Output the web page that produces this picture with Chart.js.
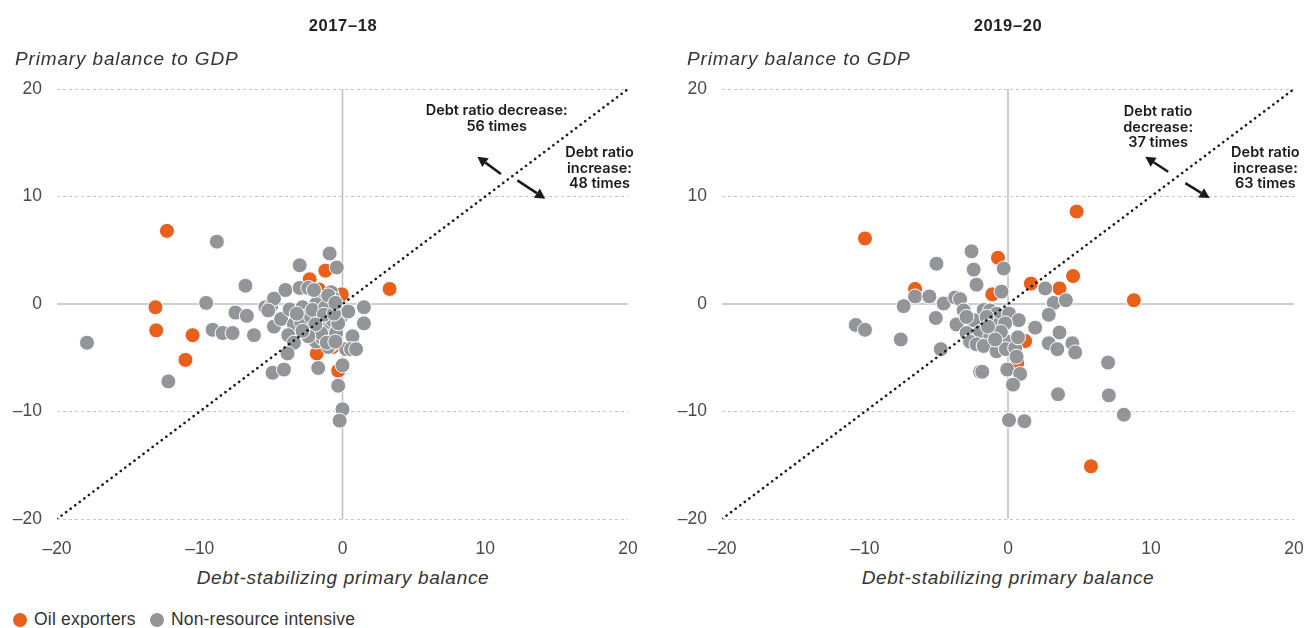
<!DOCTYPE html>
<html>
<head>
<meta charset="utf-8">
<script src="https://cdn.jsdelivr.net/npm/chart.js@4"></script>
<style>
  body { margin: 0; width: 1304px; height: 628px; background: #fff; position: relative; overflow: hidden;
         font-family: "Liberation Sans", Arial, sans-serif; color: #333; }
  canvas { position: absolute; top: 0; }
  .title { position: absolute; top: 16px; font-weight: bold; font-size: 16.5px; letter-spacing: 0.6px; color: #222; transform: translateX(-50%); }
  .ytitle { position: absolute; top: 48px; font-style: italic; font-size: 19px; letter-spacing: 0.85px; color: #333; }
  .xtitle { position: absolute; top: 567px; font-style: italic; font-size: 19px; letter-spacing: 0.7px; color: #333; transform: translateX(-50%); white-space: nowrap; }
  .legend { position: absolute; top: 609px; left: 13px; font-size: 17.5px; letter-spacing: 0.2px; color: #333; }
  .legend span.dot { display: inline-block; width: 14px; height: 14px; border-radius: 50%; vertical-align: -2px; margin-right: 7px; }
  .legend span.item { margin-right: 9px; }
</style>
</head>
<body>
<canvas id="left" width="652" height="560" style="left:0"></canvas>
<canvas id="right" width="652" height="560" style="left:652px"></canvas>
<div class="title" style="left:343px">2017–18</div>
<div class="title" style="left:1008px">2019–20</div>
<div class="ytitle" style="left:15px">Primary balance to GDP</div>
<div class="ytitle" style="left:687px">Primary balance to GDP</div>
<div class="xtitle" style="left:343px">Debt-stabilizing primary balance</div>
<div class="xtitle" style="left:1008px">Debt-stabilizing primary balance</div>
<div class="legend">
  <span class="item"><span class="dot" style="background:#E8601C"></span>Oil exporters</span>
  <span class="item"><span class="dot" style="background:#939598"></span>Non-resource intensive</span>
</div>
<script>
// Colours used for the two country groups.
const oilColor = '#E8601C';
const nonResColor = '#939598';

// Axis ticks (same for both panels).
const tickValues = [-20, -10, 0, 10, 20];

// 2017-18 panel: [debt-stabilizing primary balance, primary balance to GDP].
const oil1718 = [[-12.3,6.8],[-13.1,-0.3],[-13.05,-2.45],[-10.5,-2.9],[-11.0,-5.2],[-2.3,2.3],[-1.2,3.1],
  [-1.65,1.35],[-0.05,0.9],[-1.8,-4.6],[-0.3,-6.2],[-0.7,-4.0],[-2.1,-2.4],[3.3,1.4]];
const nonRes1718 = [[-17.9,-3.6],[-8.8,5.8],[-9.55,0.1],[-12.2,-7.2],[-9.1,-2.4],[-8.4,-2.7],[-7.7,-2.7],
  [-6.8,1.7],[-7.5,-0.8],[-6.7,-1.1],[-6.2,-2.9],[-4.9,-6.4],[-4.1,-6.1],[-5.4,-0.3],[-5.0,-0.2],[-4.8,0.5],
  [-5.2,-0.6],[-4.8,-2.1],[-4.3,-1.4],[-4.0,1.3],[-3.0,3.6],[-3.7,-0.5],[-3.4,-1.9],[-3.8,-2.9],[-3.4,-3.6],
  [-3.85,-4.6],[-3.0,1.5],[-2.4,1.5],[-2.8,-0.3],[-2.7,-1.2],[-2.5,-2.0],[-2.9,-1.7],[-0.9,4.7],[-0.4,3.4],
  [-0.8,1.1],[-0.65,0.5],[-1.65,0.5],[-1.85,0],[-1.7,-0.9],[-1.4,-1.65],[-1.15,-2.1],[-0.9,-2.4],[-0.7,-1.5],
  [-0.45,-0.55],[-0.1,-1.2],[0.4,-0.7],[1.5,-0.3],[1.5,-1.8],[0.7,-3.0],[0.25,-4.2],[0.6,-4.2],[0.95,-4.2],
  [0.0,-5.7],[-0.3,-7.6],[0.0,-9.8],[-0.2,-10.85],[-1.7,-5.95],[-1.85,-3.5],[-1.4,-3.2],[-0.8,-3.0],
  [-0.8,-3.8],[-1.0,-4.0],[-0.45,-2.7],[-2.2,-1.2],[-2.1,-0.55],[-1.2,-0.3],[-1.0,0.8],[-1.5,-2.7],
  [-1.1,-3.6],[-0.5,-3.5],[-0.3,-1.8],[-2.0,1.3],[-1.3,-1.0],[-0.6,-0.9],[-1.9,-1.9],[-3.2,-0.9],
  [-2.4,-3.0],[-2.8,-2.5],[-0.5,0.1]];

// 2019-20 panel.
const oil1920 = [[-10.0,6.1],[-6.5,1.4],[-2.4,-2.4],[4.8,8.6],[-0.7,4.3],[1.6,1.9],[4.55,2.6],[3.6,1.45],
  [8.8,0.35],[-1.1,0.9],[1.2,-3.45],[0.65,-5.5],[5.8,-15.1]];
const nonRes1920 = [[-10.65,-1.95],[-10.0,-2.4],[-7.5,-3.3],[-7.3,-0.2],[-6.5,0.7],[-5.5,0.7],[-5.0,3.75],
  [-4.5,0.05],[-5.05,-1.3],[-4.7,-4.2],[-3.7,0.6],[-3.35,0.45],[-3.6,-1.9],[-3.05,-0.65],[-2.55,4.9],
  [-2.4,3.2],[-2.2,1.8],[-2.9,-2.7],[-2.7,-3.5],[-2.25,-3.75],[-1.95,-6.3],[-0.3,3.3],[-0.45,1.15],
  [-3.1,-0.6],[-1.7,-0.55],[-1.25,-0.6],[-0.8,-0.9],[0.07,-0.9],[0.75,-1.5],[-2.4,-1.5],[-1.0,-1.95],
  [-0.2,-1.8],[-1.95,-2.6],[-1.25,-3.0],[-2.65,-3.5],[-2.2,-3.75],[-1.7,-3.9],[-0.8,-4.4],[-0.1,-3.5],
  [-0.15,-4.2],[0.5,-4.1],[0.7,-3.1],[0.6,-4.9],[-0.05,-6.1],[0.85,-6.5],[0.35,-7.5],[-1.8,-6.3],
  [1.9,-2.2],[2.6,1.45],[3.2,0.1],[4.05,0.35],[2.85,-1.0],[3.6,-2.65],[2.85,-3.65],[3.45,-4.2],
  [4.5,-3.65],[4.7,-4.5],[7.0,-5.45],[7.05,-8.5],[3.5,-8.4],[8.1,-10.3],[0.07,-10.8],[1.15,-10.9],
  [-1.5,-1.2],[-0.5,-2.6],[-1.4,-2.1],[-2.9,-1.2],[-0.9,-3.3]];

// The 45 degree line where the debt ratio stays stable.
const stableLine = [[-20,-20],[20,20]];

// Annotation labels (in data units) for each panel.
const labels1718 = [
  { x: 10.8, y: 17.95, lines: ['Debt ratio decrease:', '56 times'] },
  { x: 18.0, y: 14.05, lines: ['Debt ratio', 'increase:', '48 times'] }
];
const labels1920 = [
  { x: 10.5, y: 17.85, lines: ['Debt ratio', 'decrease:', '37 times'] },
  { x: 18.0, y: 14.05, lines: ['Debt ratio', 'increase:', '63 times'] }
];
// Arrows: [fromX, fromY, toX, toY].
const arrows1718 = [[11.1,12.1,9.45,13.7],[12.25,11.5,14.2,9.8]];
const arrows1920 = [[11.2,12.3,9.6,13.7],[12.4,11.25,14.1,9.85]];

function toPoints( pairs ) {
    return pairs.map( p => ({ x: p[0], y: p[1] }) );
}

function dashLabel( v ) {
    return v < 0 ? '\u2013' + Math.abs( v ) : String( v );
}

/**
 * Draws the solid zero lines, the annotation text and the arrows.
 */
const extrasPlugin = {
    id: 'extras',
    beforeDatasetsDraw( chart ) {
        const { ctx, chartArea: a, scales: { x, y } } = chart;
        ctx.save();
        ctx.strokeStyle = '#bdbdbd';
        ctx.lineWidth = 1.5;
        ctx.beginPath();
        ctx.moveTo( a.left, y.getPixelForValue( 0 ) );
        ctx.lineTo( a.right, y.getPixelForValue( 0 ) );
        ctx.moveTo( x.getPixelForValue( 0 ), a.top );
        ctx.lineTo( x.getPixelForValue( 0 ), a.bottom );
        ctx.stroke();
        ctx.restore();
    },
    afterDatasetsDraw( chart, args, opts ) {
        const { ctx, scales: { x, y } } = chart;
        ctx.save();
        ctx.fillStyle = '#1a1a1a';
        ctx.font = '600 14.5px Inter, "Liberation Sans", sans-serif';
        ctx.textAlign = 'center';
        ctx.textBaseline = 'middle';
        opts.labels.forEach( l => {
            const cx = x.getPixelForValue( l.x );
            const cy = y.getPixelForValue( l.y );
            l.lines.forEach( ( t, i ) => ctx.fillText( t, cx, cy + i * 15.5 ) );
        });
        ctx.strokeStyle = '#1a1a1a';
        ctx.lineWidth = 2.5;
        opts.arrows.forEach( ar => {
            const x1 = x.getPixelForValue( ar[0] ), y1 = y.getPixelForValue( ar[1] );
            const x2 = x.getPixelForValue( ar[2] ), y2 = y.getPixelForValue( ar[3] );
            const ang = Math.atan2( y2 - y1, x2 - x1 );
            const hl = 10;
            const bx = x2 - hl * Math.cos( ang ), by = y2 - hl * Math.sin( ang );
            ctx.beginPath();
            ctx.moveTo( x1, y1 );
            ctx.lineTo( bx, by );
            ctx.stroke();
            ctx.beginPath();
            ctx.moveTo( x2, y2 );
            ctx.lineTo( bx + 5.5 * Math.sin( ang ), by - 5.5 * Math.cos( ang ) );
            ctx.lineTo( bx - 5.5 * Math.sin( ang ), by + 5.5 * Math.cos( ang ) );
            ctx.closePath();
            ctx.fill();
        });
        ctx.restore();
    }
};

/**
 * Creates one scatter panel.
 */
function createPanel( canvas, oil, nonRes, labels, arrows, yAxisWidth, padRight ) {
    return new Chart( canvas, {
        type: 'scatter',
        data: {
            datasets: [
                {
                    type: 'line',
                    data: toPoints( stableLine ),
                    borderColor: '#1a1a1a',
                    borderWidth: 2.6,
                    borderDash: [0.1, 5.6],
                    borderCapStyle: 'round',
                    pointRadius: 0,
                    fill: false,
                    order: 0
                },
                {
                    label: 'Non-resource intensive',
                    data: toPoints( nonRes ),
                    backgroundColor: nonResColor,
                    borderColor: '#ffffff',
                    borderWidth: 1,
                    pointRadius: 7.5,
                    order: 1
                },
                {
                    label: 'Oil exporters',
                    data: toPoints( oil ),
                    backgroundColor: oilColor,
                    borderColor: '#ffffff',
                    borderWidth: 1,
                    pointRadius: 7.5,
                    order: 2
                }
            ]
        },
        options: {
            responsive: false,
            animation: false,
            events: [],
            layout: { padding: { top: 89, left: 0, right: padRight, bottom: 0 } },
            plugins: {
                legend: { display: false },
                tooltip: { enabled: false },
                extras: { labels: labels, arrows: arrows }
            },
            scales: {
                x: {
                    type: 'linear',
                    min: -20, max: 20,
                    afterBuildTicks: s => { s.ticks = tickValues.map( v => ({ value: v }) ); },
                    afterFit: s => { s.height = 41; s.paddingLeft = 0; s.paddingRight = 0; },
                    border: { display: false },
                    grid: { display: false, drawTicks: false },
                    ticks: {
                        callback: dashLabel,
                        padding: 20,
                        color: '#4a4a4a',
                        font: { family: '"Liberation Sans", Arial, sans-serif', size: 17.5 }
                    }
                },
                y: {
                    type: 'linear',
                    min: -20, max: 20,
                    afterBuildTicks: s => { s.ticks = tickValues.map( v => ({ value: v }) ); },
                    afterFit: s => { s.width = yAxisWidth; s.paddingTop = 0; s.paddingBottom = 0; },
                    border: { display: false, dash: [3, 3] },
                    grid: {
                        drawTicks: false,
                        lineWidth: 1,
                        color: c => c.tick && c.tick.value === 0 ? 'rgba(0,0,0,0)' : '#c4c4c4'
                    },
                    ticks: {
                        callback: dashLabel,
                        padding: 15,
                        color: '#4a4a4a',
                        font: { family: '"Liberation Sans", Arial, sans-serif', size: 17.5 }
                    }
                }
            }
        },
        plugins: [extrasPlugin]
    });
}

createPanel( document.getElementById( 'left' ), oil1718, nonRes1718, labels1718, arrows1718, 57, 24 );
createPanel( document.getElementById( 'right' ), oil1920, nonRes1920, labels1920, arrows1920, 70, 10 );
</script>
</body>
</html>
